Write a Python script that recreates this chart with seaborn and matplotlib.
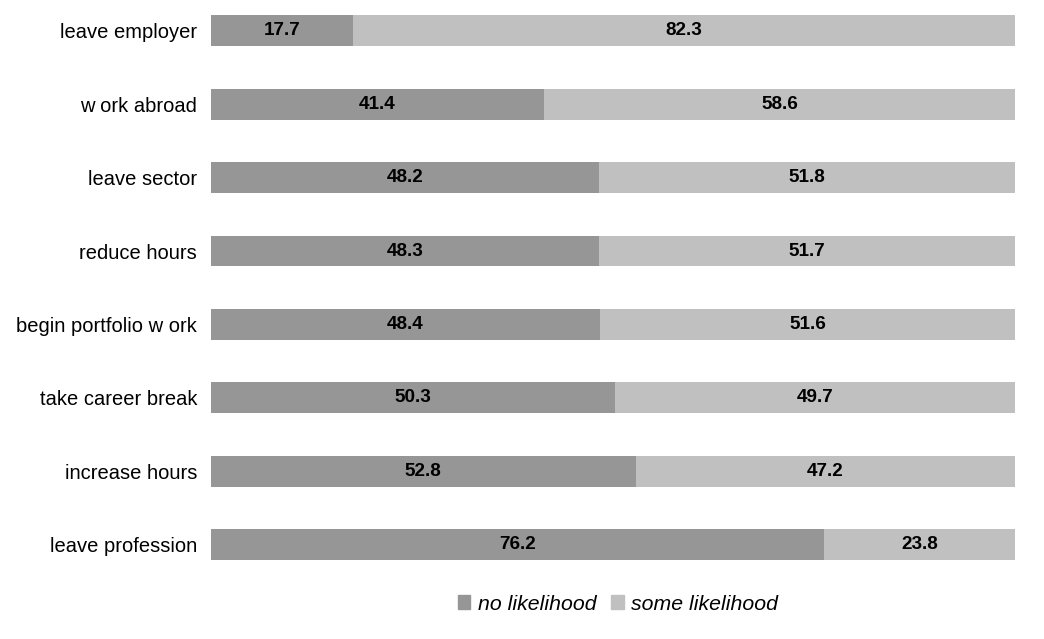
import matplotlib
matplotlib.use("Agg")
import matplotlib.pyplot as plt
import seaborn as sns
import pandas as pd
from matplotlib.patches import Patch

# データ
categories = ["leave employer", "w ork abroad", "leave sector", "reduce hours",
              "begin portfolio w ork", "take career break", "increase hours",
              "leave profession"]
no_likelihood = [17.7, 41.4, 48.2, 48.3, 48.4, 50.3, 52.8, 76.2]
some_likelihood = [82.3, 58.6, 51.8, 51.7, 51.6, 49.7, 47.2, 23.8]

dark = "#969696"
light = "#c0c0c0"

df = pd.DataFrame({"cat": categories, "no": no_likelihood, "some": some_likelihood})
df["total"] = df["no"] + df["some"]

sns.set_style("white")
plt.rcParams["font.family"] = ["Liberation Sans", "DejaVu Sans"]
plt.rcParams["text.color"] = "black"

fig = plt.figure(figsize=(10.44, 6.39), dpi=100)
ax = fig.add_axes([211 / 1044, 1 - 582 / 639, 804 / 1044, 582 / 639])

# 積み上げ棒（全体を薄色、その上に濃色）
sns.barplot(data=df, x="total", y="cat", color=light, width=0.42,
            saturation=1, linewidth=0, ax=ax, orient="h")
sns.barplot(data=df, x="no", y="cat", color=dark, width=0.42,
            saturation=1, linewidth=0, ax=ax, orient="h")

for i, (n, s) in enumerate(zip(no_likelihood, some_likelihood)):
    ax.text(n / 2, i, f"{n:.1f}", ha="center", va="center",
            fontsize=13.6, fontweight="bold", color="black")
    ax.text(n + s / 2, i, f"{s:.1f}", ha="center", va="center",
            fontsize=13.6, fontweight="bold", color="black")

ax.set_xlim(0, 100)
ax.set_ylim(7.51, -0.42)
ax.set_xlabel("")
ax.set_ylabel("")
ax.set_xticks([])
ax.tick_params(axis="y", length=0, pad=10, labelsize=14.5, labelcolor="black")
sns.despine(ax=ax, left=True, bottom=True)

handles = [Patch(color=dark, label="no likelihood"),
           Patch(color=light, label="some likelihood")]
fig.legend(handles=handles, loc="center", bbox_to_anchor=(618 / 1044, 1 - 604 / 639),
           ncol=2, frameon=False, handlelength=0.6, handleheight=0.6,
           handletextpad=0.35, columnspacing=0.7, borderpad=0,
           labelcolor="black", prop={"style": "italic", "size": 15.3})

fig.savefig("out.png", dpi=100)
